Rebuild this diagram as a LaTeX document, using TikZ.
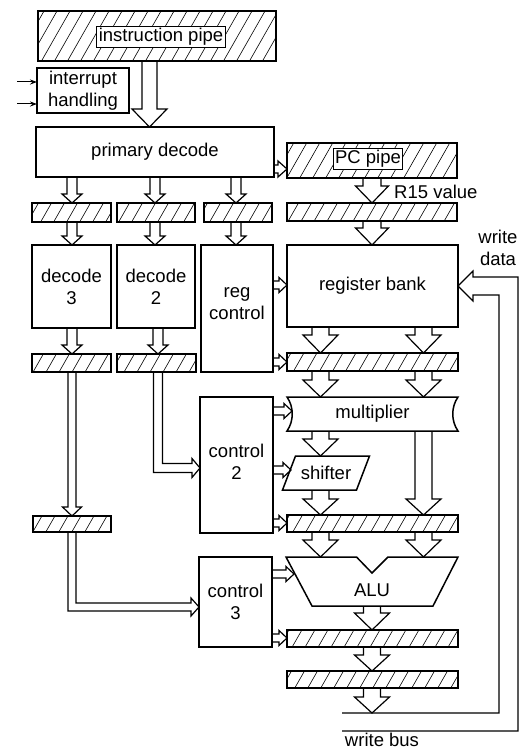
\documentclass[tikz,border=0pt]{standalone}
\usepackage{fontspec}
\setmainfont{Liberation Sans}
\usetikzlibrary{calc,arrows.meta}
\tikzset{
  lbl/.style={font=\fontsize{18.5}{22}\selectfont, align=center, inner sep=0pt},
  box/.style={lbl, draw, line width=1.5pt, outer sep=0pt, fill=white},
  latchbox/.style={draw=none, inner sep=0pt, outer sep=0pt},
  ghost/.style={lbl, outer sep=0pt},
  hatchln/.style={line width=0.6pt},
  edge/.style={line width=1.5pt},
  conn/.style={line width=1.2pt, line join=miter},
  pipelabel/.style={lbl, draw, fill=white, line width=0.9pt, inner sep=2pt},
  inarrow/.style={line width=1pt, -{Stealth[length=7pt,width=5pt]}}
}
\newcommand\bx[7][box]{\node[#1, minimum width={(#5-#3)*1pt}, minimum height={(#6-#4)*1pt}] (#2) at ({(#3+#5)/2},{(#4+#6)/2}) {#7};}
\newcommand\hatch[1]{\begin{scope}\clip (#1.north west) rectangle (#1.south east);
\foreach \i in {-480,-467,...,560} \draw[hatchln] (\i,770) -- ++(445,-780);
\end{scope}\draw[edge] (#1.north west) rectangle (#1.south east);}
\newcommand\vdn[5]{\draw[conn] let \p1=(#1), \p2=(#2) in
 (\x1-#3pt,\y1) -- (\x1-#3pt,\y2+#5pt) -- (\x1-#4pt,\y2+#5pt) -- (\x1,\y2) -- (\x1+#4pt,\y2+#5pt) -- (\x1+#3pt,\y2+#5pt) -- (\x1+#3pt,\y1);}
\newcommand\hrt[5]{\draw[conn] let \p1=(#1), \p2=(#2) in
 (\x1,\y1+#3pt) -- (\x2-#5pt,\y1+#3pt) -- (\x2-#5pt,\y1+#4pt) -- (\x2,\y1) -- (\x2-#5pt,\y1-#4pt) -- (\x2-#5pt,\y1-#3pt) -- (\x1,\y1-#3pt);}
\newcommand\elb[5]{\draw[conn] let \p1=(#1), \p2=(#2) in
 (\x1-#3pt,\y1) -- (\x1-#3pt,\y2-#3pt) -- (\x2-#5pt,\y2-#3pt) -- (\x2-#5pt,\y2-#4pt) -- (\x2,\y2) -- (\x2-#5pt,\y2+#4pt) -- (\x2-#5pt,\y2+#3pt) -- (\x1+#3pt,\y2+#3pt) -- (\x1+#3pt,\y1);}
\begin{document}
\begin{tikzpicture}[x=1pt,y=-1pt]
\fill[white] (0,0) rectangle (523,751);
\useasboundingbox (0,0) rectangle (523,751);
% columns and rows
\coordinate (ki) at (149.5,0);
\coordinate (k1) at (72,0);
\coordinate (k2) at (155,0);
\coordinate (k2b) at (158,0);
\coordinate (k3) at (236,0);
\coordinate (kL) at (320.5,0);
\coordinate (kM) at (372,0);
\coordinate (kR) at (423.5,0);
\coordinate (wbc) at (508.5,0);
\coordinate (y169) at (0,169);
\coordinate (y285) at (0,285);
\coordinate (y362) at (0,362);
\coordinate (y411) at (0,411);
\coordinate (y470) at (0,470);
\coordinate (y523) at (0,523);
\coordinate (y574) at (0,574);
\coordinate (y638) at (0,638);
\coordinate (y468) at (0,468);
\coordinate (y607) at (0,607);
\coordinate (y286) at (0,286);
% hatched pipes and latches
\bx[latchbox]{ipipe}{38}{11}{276}{61}{}
\bx[latchbox]{pcpipe}{287}{143}{457}{178}{}
\bx[latchbox]{la1}{32}{203}{111}{222}{}
\bx[latchbox]{la2}{117}{203}{195}{222}{}
\bx[latchbox]{la3}{204}{203}{272}{222}{}
\bx[latchbox]{lpc}{287}{203}{457}{221}{}
\bx[latchbox]{lb1}{32}{354}{111}{372}{}
\bx[latchbox]{lb2}{117}{354}{196}{372}{}
\bx[latchbox]{lm}{33}{516}{111}{532}{}
\bx[latchbox]{lr1}{287}{353}{458}{371}{}
\bx[latchbox]{lr2}{287}{515}{458}{532}{}
\bx[latchbox]{lr3}{287}{630}{458}{647}{}
\bx[latchbox]{lr4}{287}{671}{458}{688}{}
\foreach \n in {ipipe,pcpipe,la1,la2,la3,lpc,lb1,lb2,lm,lr1,lr2,lr3,lr4} {\hatch{\n}}
\node[pipelabel] (iplab) at (161,37) {instruction pipe};
\node[pipelabel] (pclab) at (368,159) {PC pipe};
% plain boxes
\bx{irq}{37}{68}{129}{113}{interrupt\\handling}
\bx{pdec}{36}{127}{274}{177}{primary decode}
\bx{dec3}{32}{245}{111}{328}{decode\\3}
\bx{dec2}{117}{245}{195}{328}{decode\\2}
\bx{regc}{201}{245}{273}{372}{}
\node[lbl] (regctxt) at ($(regc.center)+(0,-5)$) {reg\\control};
\bx{regb}{287}{245}{458}{327}{register bank}
\bx{ctl2}{200}{397}{273}{533}{}
\node[lbl] (ctl2txt) at ($(ctl2.center)+(0,-3)$) {control\\2};
\bx{ctl3}{199}{557}{272}{647}{control\\3}
% multiplier
\bx[ghost]{mul}{287}{397}{458}{431}{multiplier}
\draw[edge, line join=miter] (mul.north west) -- (mul.north east)
  .. controls ($(mul.east)+(-7,-7)$) and ($(mul.east)+(-7,7)$) .. (mul.south east)
  -- (mul.south west)
  .. controls ($(mul.west)+(7,7)$) and ($(mul.west)+(7,-7)$) .. cycle;
% shifter
\bx[ghost]{sh}{289}{456}{363}{490}{shifter}
\draw[edge, line join=miter] ($(sh.north west)+(6.5,0)$) -- ($(sh.north east)+(6.5,0)$)
  -- ($(sh.south east)+(-6.5,0)$) -- ($(sh.south west)+(-6.5,0)$) -- cycle;
% ALU
\bx[ghost]{alu}{286}{557}{458}{606}{}
\draw[edge, line join=miter] (alu.north west) -- ($(alu.north)+(-15.5,0)$) -- ($(alu.north)+(0,16)$)
  -- ($(alu.north)+(16,0)$) -- (alu.north east) -- ($(alu.south east)+(-25,0)$)
  -- ($(alu.south west)+(26,0)$) -- cycle;
\node[lbl] (alutxt) at (372,590) {ALU};
% texts
\node[lbl, anchor=west] (r15) at (394,192) {R15 value};
\node[lbl] (wd) at (498,248) {write\\data};
\node[lbl] (wbl) at (382,740) {write bus};
% interrupt inputs
\coordinate (in1) at (17,82);
\coordinate (in2) at (17,104);
\draw[inarrow] (in1) -- (irq.west |- in1);
\draw[inarrow] (in2) -- (irq.west |- in2);
% control-path arrows
\vdn{ipipe.south -| ki}{pdec.north -| ki}{7.5}{17.5}{18}
\vdn{pdec.south -| k1}{la1.north -| k1}{5}{10}{9}
\vdn{pdec.south -| k2}{la2.north -| k2}{5}{10}{9}
\vdn{pdec.south -| k3}{la3.north -| k3}{5}{10}{9}
\vdn{la1.south -| k1}{dec3.north -| k1}{5}{10}{9}
\vdn{la2.south -| k2}{dec2.north -| k2}{5}{10}{9}
\vdn{la3.south -| k3}{regc.north -| k3}{5}{10}{9}
\vdn{dec3.south -| k1}{lb1.north -| k1}{5}{10}{9}
\vdn{dec2.south -| k2b}{lb2.north -| k2b}{5}{10}{9}
\vdn{lb1.south -| k1}{lm.north -| k1}{4}{9.5}{9}
\elb{lb2.south -| k2b}{ctl2.west |- y468}{4.5}{9.5}{8}
\elb{lm.south -| k1}{ctl3.west |- y607}{4}{9}{8}
% horizontal control arrows
\hrt{pdec.east |- y169}{pcpipe.west |- y169}{4}{8}{9}
\hrt{regc.east |- y285}{regb.west |- y285}{4}{7.5}{8}
\hrt{regc.east |- y362}{lr1.west |- y362}{4}{7.5}{8}
\hrt{ctl2.east |- y411}{$(mul.west |- y411)+(5,0)$}{4}{7.5}{8}
\hrt{ctl2.east |- y470}{$(sh.west |- y470)+(2,0)$}{4}{7.5}{8}
\hrt{ctl2.east |- y523}{lr2.west |- y523}{4}{7.5}{8}
\hrt{ctl3.east |- y574}{$(alu.west |- y574)+(8,0)$}{4}{7.5}{8}
\hrt{ctl3.east |- y638}{lr3.west |- y638}{4}{7.5}{8}
% datapath arrows
\vdn{pcpipe.south -| kM}{lpc.north -| kM}{9}{16.5}{17}
\vdn{lpc.south -| kM}{regb.north -| kM}{9}{16.5}{17}
\vdn{regb.south -| kL}{lr1.north -| kL}{8.5}{17.5}{18}
\vdn{regb.south -| kR}{lr1.north -| kR}{8.5}{17.5}{18}
\vdn{lr1.south -| kL}{mul.north -| kL}{8.5}{17.5}{17}
\vdn{lr1.south -| kR}{mul.north -| kR}{8.5}{17.5}{17}
\vdn{mul.south -| kL}{sh.north -| kL}{8.5}{17.5}{17}
\vdn{sh.south -| kL}{lr2.north -| kL}{8.5}{17.5}{16}
\vdn{mul.south -| kR}{lr2.north -| kR}{8.5}{17.5}{16}
\vdn{lr2.south -| kL}{alu.north -| kL}{8.5}{17.5}{17}
\vdn{lr2.south -| kR}{alu.north -| kR}{8.5}{17.5}{17}
\vdn{alu.south -| kM}{lr3.north -| kM}{8.5}{17.5}{17}
\vdn{lr3.south -| kM}{lr4.north -| kM}{8.5}{17.5}{16}
\coordinate (wbstart) at (342,722);
\vdn{lr4.south -| kM}{$(wbstart -| kM)+(0,-9)$}{8.5}{17.5}{16}
% write bus to register bank
\draw[conn] let \p1=(regb.east |- y286), \p2=(wbstart), \p3=(wbc) in
 (\x2,\y2-9pt) -- (\x3+9.5pt,\y2-9pt) -- (\x3+9.5pt,\y1+9pt) -- (\x1+15pt,\y1+9pt)
 -- (\x1+15pt,\y1+15pt) -- (\x1,\y1) -- (\x1+15pt,\y1-15pt) -- (\x1+15pt,\y1-9pt)
 -- (\x3-9.5pt,\y1-9pt) -- (\x3-9.5pt,\y2+9pt) -- (\x2,\y2+9pt);
\end{tikzpicture}
\end{document}
